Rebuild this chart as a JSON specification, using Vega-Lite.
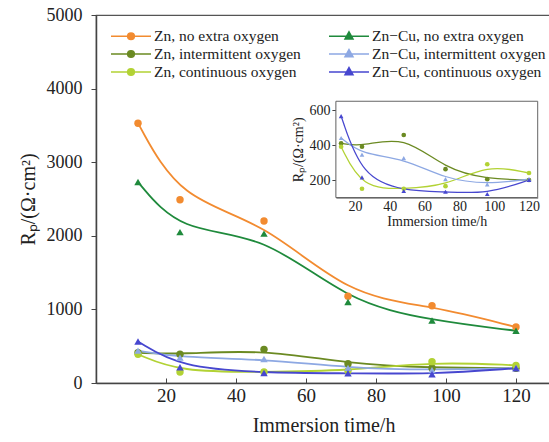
{
 "$schema": "https://vega.github.io/schema/vega-lite/v6.json",
 "width": 455, "height": 368,
 "autosize": "none",
 "padding": {"left": 96, "top": 15, "right": 0, "bottom": 59},
 "background": "white",
 "config": {"font": "Liberation Serif", "view": {"stroke": "#555", "strokeWidth": 1.2},
   "axis": {"grid": false, "domainColor": "#444", "tickColor": "#444", "labelColor": "#222", "titleColor": "#222", "titleFontWeight": "normal", "labelFont": "Liberation Serif", "titleFont": "Liberation Serif"}},
 "data": {"values": [
  {"series": "Zn, no extra oxygen", "alloy": "Zn", "t": 12, "rp": 3530},
  {"series": "Zn, no extra oxygen", "alloy": "Zn", "t": 24, "rp": 2490},
  {"series": "Zn, no extra oxygen", "alloy": "Zn", "t": 48, "rp": 2200},
  {"series": "Zn, no extra oxygen", "alloy": "Zn", "t": 72, "rp": 1180},
  {"series": "Zn, no extra oxygen", "alloy": "Zn", "t": 96, "rp": 1050},
  {"series": "Zn, no extra oxygen", "alloy": "Zn", "t": 120, "rp": 760},
  {"series": "Zn−Cu, no extra oxygen", "alloy": "Zn−Cu", "t": 12, "rp": 2730},
  {"series": "Zn−Cu, no extra oxygen", "alloy": "Zn−Cu", "t": 24, "rp": 2050},
  {"series": "Zn−Cu, no extra oxygen", "alloy": "Zn−Cu", "t": 48, "rp": 2030},
  {"series": "Zn−Cu, no extra oxygen", "alloy": "Zn−Cu", "t": 72, "rp": 1100},
  {"series": "Zn−Cu, no extra oxygen", "alloy": "Zn−Cu", "t": 96, "rp": 850},
  {"series": "Zn−Cu, no extra oxygen", "alloy": "Zn−Cu", "t": 120, "rp": 710},
  {"series": "Zn, intermittent oxygen", "alloy": "Zn", "t": 12, "rp": 410},
  {"series": "Zn, intermittent oxygen", "alloy": "Zn", "t": 24, "rp": 390},
  {"series": "Zn, intermittent oxygen", "alloy": "Zn", "t": 48, "rp": 457},
  {"series": "Zn, intermittent oxygen", "alloy": "Zn", "t": 72, "rp": 262},
  {"series": "Zn, intermittent oxygen", "alloy": "Zn", "t": 96, "rp": 205},
  {"series": "Zn, intermittent oxygen", "alloy": "Zn", "t": 120, "rp": 200},
  {"series": "Zn, continuous oxygen", "alloy": "Zn", "t": 12, "rp": 390},
  {"series": "Zn, continuous oxygen", "alloy": "Zn", "t": 24, "rp": 150},
  {"series": "Zn, continuous oxygen", "alloy": "Zn", "t": 48, "rp": 150},
  {"series": "Zn, continuous oxygen", "alloy": "Zn", "t": 72, "rp": 165},
  {"series": "Zn, continuous oxygen", "alloy": "Zn", "t": 96, "rp": 290},
  {"series": "Zn, continuous oxygen", "alloy": "Zn", "t": 120, "rp": 240},
  {"series": "Zn−Cu, intermittent oxygen", "alloy": "Zn−Cu", "t": 12, "rp": 440},
  {"series": "Zn−Cu, intermittent oxygen", "alloy": "Zn−Cu", "t": 24, "rp": 345},
  {"series": "Zn−Cu, intermittent oxygen", "alloy": "Zn−Cu", "t": 48, "rp": 325},
  {"series": "Zn−Cu, intermittent oxygen", "alloy": "Zn−Cu", "t": 72, "rp": 205},
  {"series": "Zn−Cu, intermittent oxygen", "alloy": "Zn−Cu", "t": 96, "rp": 175},
  {"series": "Zn−Cu, intermittent oxygen", "alloy": "Zn−Cu", "t": 120, "rp": 205},
  {"series": "Zn−Cu, continuous oxygen", "alloy": "Zn−Cu", "t": 12, "rp": 565},
  {"series": "Zn−Cu, continuous oxygen", "alloy": "Zn−Cu", "t": 24, "rp": 215},
  {"series": "Zn−Cu, continuous oxygen", "alloy": "Zn−Cu", "t": 48, "rp": 137},
  {"series": "Zn−Cu, continuous oxygen", "alloy": "Zn−Cu", "t": 72, "rp": 133},
  {"series": "Zn−Cu, continuous oxygen", "alloy": "Zn−Cu", "t": 96, "rp": 120},
  {"series": "Zn−Cu, continuous oxygen", "alloy": "Zn−Cu", "t": 120, "rp": 200}
 ]},
 "layer": [
  {"layer": [
   {"mark": {"type": "line", "interpolate": "basis", "strokeWidth": 1.8},
    "encoding": {
     "x": {"field": "t", "type": "quantitative", "scale": {"domain": [0, 130], "nice": false, "zero": false},
       "axis": {"values": [20, 40, 60, 80, 100, 120], "title": "Immersion time/h", "labelFontSize": 19, "titleFontSize": 20, "tickSize": -5, "labelPadding": 8, "titlePadding": 10, "domainWidth": 1.5}},
     "y": {"field": "rp", "type": "quantitative", "scale": {"domain": [0, 5000], "nice": false},
       "axis": {"values": [0, 1000, 2000, 3000, 4000, 5000], "format": "d", "title": "Rₚ/(Ω·cm²)", "labelFontSize": 18, "titleFontSize": 20, "tickSize": 5, "labelPadding": 9, "titlePadding": 8, "domainWidth": 1.5}},
     "color": {"field": "series", "type": "nominal",
       "scale": {"domain": ["Zn, no extra oxygen", "Zn, intermittent oxygen", "Zn, continuous oxygen", "Zn−Cu, no extra oxygen", "Zn−Cu, intermittent oxygen", "Zn−Cu, continuous oxygen"],
                 "range": ["#F28B30", "#6B8A22", "#B2D234", "#1F8A3C", "#8DA8E3", "#4747CF"]},
       "legend": {"title": null, "orient": "none", "legendX": 14, "legendY": 12, "columns": 2, "columnPadding": 25, "rowPadding": 0, "symbolSize": 256, "symbolOffset": 12, "labelFontSize": 15.5, "labelFont": "Liberation Serif", "labelColor": "#222", "labelOffset": 14, "labelLimit": 300,
         "encode": {"symbols": {"update": {
           "shape": {"signal": "indexof(datum.value, 'Cu') >= 0 ? 'M-2.5,0L2.5,0M0,-0.55L0.5,0.35L-0.5,0.35Z' : 'M-2.5,0L2.5,0M-0.42,0A0.42,0.42,0,1,0,0.42,0A0.42,0.42,0,1,0,-0.42,0Z'"},
           "fill": {"scale": "color", "field": "value"},
           "stroke": {"scale": "color", "field": "value"},
           "strokeWidth": {"value": 1.5},
           "opacity": {"value": 1}}}}}}
    }},
   {"mark": {"type": "point", "filled": true, "opacity": 1, "size": 55},
    "encoding": {
     "x": {"field": "t", "type": "quantitative"},
     "y": {"field": "rp", "type": "quantitative"},
     "color": {"field": "series", "type": "nominal"},
     "shape": {"field": "alloy", "type": "nominal", "scale": {"domain": ["Zn", "Zn−Cu"], "range": ["circle", "triangle-up"]}, "legend": null}
    }}
  ]},
  {"layer": [
   {"data": {"values": [{}]},
    "mark": {"type": "rect", "fill": "white", "stroke": "#666", "strokeWidth": 1},
    "encoding": {
     "x": {"datum": 9, "type": "quantitative", "scale": {"domain": [9, 125], "range": [239.9, 441.7], "nice": false, "zero": false},
       "axis": {"orient": "bottom", "offset": -185.5, "values": [20, 40, 60, 80, 100, 120], "title": "Immersion time/h", "labelFontSize": 14, "titleFontSize": 14, "tickSize": -4, "labelPadding": 6, "titlePadding": 1}},
     "x2": {"datum": 125},
     "y": {"datum": 100, "type": "quantitative", "scale": {"domain": [100, 650], "range": [182.5, 86.25], "nice": false, "zero": false},
       "axis": {"orient": "left", "offset": -239.9, "values": [200, 400, 600], "title": "Rₚ/(Ω·cm²)", "labelFontSize": 14, "titleFontSize": 14, "tickSize": 4, "labelPadding": 2, "titlePadding": 3}},
     "y2": {"datum": 650}
    }},
   {"mark": {"type": "line", "interpolate": "basis", "strokeWidth": 1.3},
    "encoding": {
     "x": {"field": "t", "type": "quantitative"},
     "y": {"field": "rp", "type": "quantitative"},
     "color": {"field": "series", "type": "nominal"}
    },
    "transform": [{"filter": "indexof(datum.series, 'no extra') < 0"}]},
   {"mark": {"type": "point", "filled": true, "opacity": 1, "size": 22},
    "encoding": {
     "x": {"field": "t", "type": "quantitative"},
     "y": {"field": "rp", "type": "quantitative"},
     "color": {"field": "series", "type": "nominal"},
     "shape": {"field": "alloy", "type": "nominal", "legend": null}
    },
    "transform": [{"filter": "indexof(datum.series, 'no extra') < 0"}]}
  ]}
 ],
 "resolve": {"scale": {"x": "independent", "y": "independent"}}
}
